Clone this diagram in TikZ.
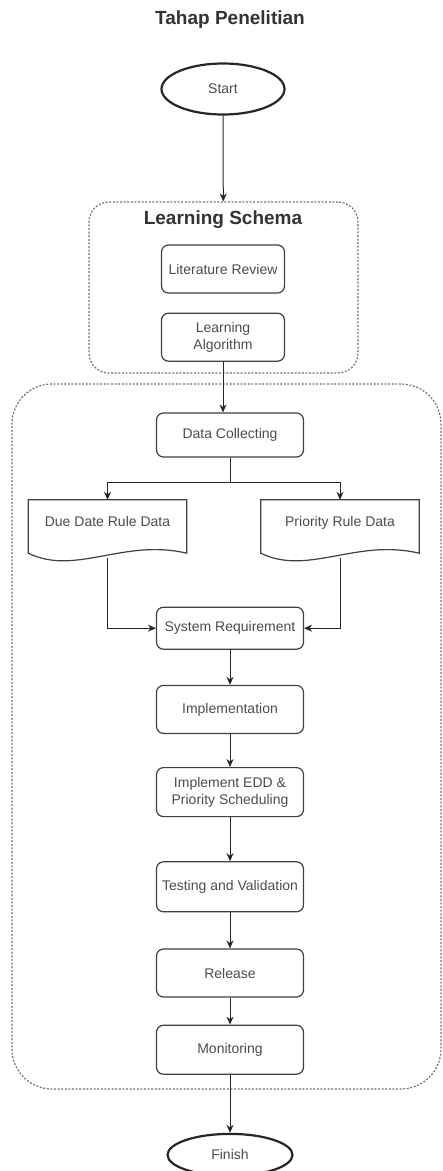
\documentclass[tikz,border=0pt]{standalone}
\usepackage{fontspec}
\setmainfont{Liberation Sans}
\usetikzlibrary{arrows.meta,positioning,shapes.geometric}

\begin{document}
\begin{tikzpicture}[x=1pt, y=-1pt, node distance=35pt,
    box/.style={draw=black!75, line width=1.2pt, rounded corners=7pt, align=center, minimum width=147pt, minimum height=48pt, inner sep=2pt, font=\fontsize{14}{17}\selectfont, text=black!70},
    term/.style={ellipse, draw=black!85, line width=2.2pt, minimum width=123pt, minimum height=51pt, font=\fontsize{14}{17}\selectfont, text=black!70},
    group/.style={draw=black!55, line width=1.2pt, dash pattern=on 2pt off 1.6pt, rounded corners=20pt},
    doc/.style={minimum width=158pt, minimum height=46pt, inner sep=2pt, text height=10pt, text depth=3pt, font=\fontsize{14}{17}\selectfont, text=black!70},
    docline/.style={draw=black!75, line width=1.2pt},
    heading/.style={font=\bfseries\fontsize{19}{22}\selectfont, text=black!80},
    arr/.style={-{Stealth[length=8pt, width=7pt]}, line width=1pt, draw=black!85}]
    \useasboundingbox (0,0) rectangle (443,1171);
    \node[heading] (title) at (230,20) {Tahap Penelitian};
    \node[term] (start) at (223,89) {Start};
    % the two dotted groups
    \node[group, minimum width=269pt, minimum height=171pt] (schema) at (223.5,287.5) {};
    \node[group, rounded corners=40pt, minimum width=429pt, minimum height=705pt] (dev) at (226.5,736.5) {};
    \node[heading] (schemalabel) at (223,220) {Learning Schema};
    \node[box, minimum width=123pt] (lit) at (223,269) {Literature Review};
    \node[box, minimum width=123pt, below=19pt of lit] (algo) {Learning\\Algorithm};
    \node[box, minimum height=44pt] (collect) at (230,435) {Data Collecting};
    \node[doc] (due) at (107.5,523) {Due Date Rule Data};
    \node[doc] (prio) at (340,523) {Priority Rule Data};
    \foreach \d in {due,prio}
      \draw[docline] (\d.north west) -- (\d.north east) -- ([shift={(0,7)}]\d.south east)
        .. controls ([shift={(-63,-8)}]\d.south east) and ([shift={(47,30)}]\d.south west)
        .. ([shift={(0,7)}]\d.south west) -- cycle;
    \node[box, minimum height=42pt, below=149pt of collect] (sysreq) {System Requirement};
    \node[box, below=35pt of sysreq] (impl) {Implementation};
    \node[box, minimum height=49pt, below=33pt of impl] (edd) {Implement EDD \&\\Priority Scheduling};
    \node[box, minimum height=50pt, below=44pt of edd] (test) {Testing and Validation};
    \node[box, below=36pt of test] (release) {Release};
    \node[box, minimum height=49pt, below=27pt of release] (monitor) {Monitoring};
    \node[term, minimum width=125pt, minimum height=42pt, below=58pt of monitor] (finish) {Finish};
    \draw[arr] (start) -- (schema);
    \draw[arr] (algo) -- (algo |- collect.north);
    \draw[arr] (collect.south) -- ++(0,25) -| (due.north);
    \draw[arr] (collect.south) -- ++(0,25) -| (prio.north);
    \draw[arr] ([shift={(0,12)}]due.south) |- (sysreq.west);
    \draw[arr] ([shift={(0,12)}]prio.south) |- (sysreq.east);
    \draw[arr] (sysreq) -- (impl);
    \draw[arr] (impl) -- (edd);
    \draw[arr] (edd) -- (test);
    \draw[arr] (test) -- (release);
    \draw[arr] (release) -- (monitor);
    \draw[arr] (monitor) -- (finish);
  \end{tikzpicture}
\end{document}
